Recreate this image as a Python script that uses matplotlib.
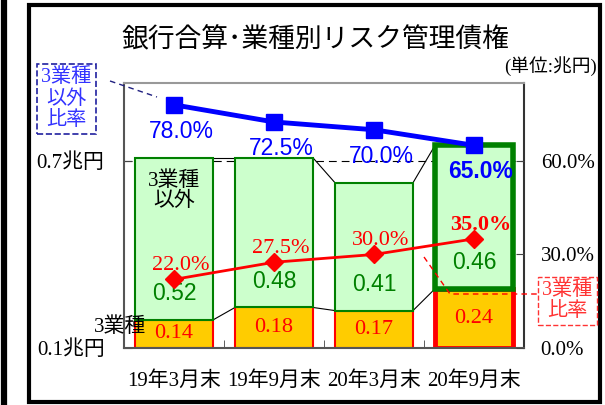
import matplotlib
matplotlib.use('Agg')
import matplotlib.pyplot as plt
from matplotlib.lines import Line2D
from matplotlib.patches import Rectangle

# data (兆円 / %)
cats = ['19年3月末', '19年9月末', '20年3月末', '20年9月末']
three_ind = [0.14, 0.18, 0.17, 0.24]      # 3業種
others = [0.52, 0.48, 0.41, 0.46]         # 3業種以外
others_pct = [78.0, 72.5, 70.0, 65.0]     # 3業種以外比率
three_pct = [22.0, 27.5, 30.0, 35.0]      # 3業種比率
left_labels = ['0.1兆円', '0.7兆円']
right_ticks = [0, 30, 60]
right_labels = ['0.0%', '30.0%', '60.0%']

SERIF = ['Liberation Serif', 'Noto Sans CJK JP']
SANS = ['Liberation Sans', 'Noto Sans CJK JP']
plt.rcParams['font.family'] = SERIF

W, H = 605, 405
fig = plt.figure(figsize=(W / 100, H / 100), dpi=100)


def fp(x, y):
    # pixel position -> figure fraction
    return x / W, 1 - y / H


ax = fig.add_axes([124 / W, 57 / H, 400 / W, 265 / H])
ax2 = ax.twinx()

y_lo, y_hi = 0.05, 0.9
p_hi = 85
ax.set_ylim(y_lo, y_hi)
ax2.set_ylim(0, p_hi)
ax.set_xlim(-0.5, 3.5)


def pct2val(p):
    return y_lo + (y_hi - y_lo) * p / p_hi


x = list(range(len(cats)))
w = 0.78
last = len(cats) - 1
tot = [a + b for a, b in zip(three_ind, others)]

for i in x:
    thick = i == last
    ax.bar(i, three_ind[i] - y_lo, w, bottom=y_lo, color='#FFCC00',
           edgecolor='red', lw=3.5 if thick else 1.5, zorder=2)
    ax.bar(i, others[i], w, bottom=three_ind[i], color='#CCFFCC',
           edgecolor='#008000', lw=4 if thick else 1.5, zorder=3)

# series lines between bars
for i in range(last):
    for tops in (three_ind, tot):
        ax.plot([i + w / 2, i + 1 - w / 2], [tops[i], tops[i + 1]],
                color='black', lw=0.8, zorder=1)

ax.axhline(pct2val(60), color='black', lw=0.8, ls=(0, (7, 4.5)), zorder=0.5)

# value labels
for i in x:
    ax.text(i, (y_lo + three_ind[i]) / 2, f'{three_ind[i]:.2f}', ha='center',
            va='center', color='red', fontsize=16, zorder=5)
    ax.annotate(f'{others[i]:.2f}', (i, three_ind[i]), xytext=(0, 19),
                textcoords='offset points', ha='center', va='center',
                color='#008000', fontsize=16.5, family=SANS, zorder=5)

ax.annotate('3業種\n以外', (0, tot[0]), xytext=(0, -24), textcoords='offset points',
            ha='center', va='center', fontsize=15, linespacing=1.05, zorder=5)

# ratio lines
ax2.plot(x, others_pct, color='blue', lw=3.5, marker='s', ms=12, zorder=3)
ax2.plot(x, three_pct, color='red', lw=2, marker='D', ms=9.5, zorder=3)

for i in x:
    wt = 'bold' if i == last else 'normal'
    ax2.annotate(f'{others_pct[i]:.1f}%', (i, others_pct[i]), xytext=(5, -19),
                 textcoords='offset points', ha='center', va='center',
                 color='blue', fontsize=16.5, family=SANS, weight=wt)
    ax2.annotate(f'{three_pct[i]:.1f}%', (i, three_pct[i]), xytext=(5, 10),
                 textcoords='offset points', ha='center', va='center',
                 color='red', fontsize=16, weight=wt)

# axes styling
ax.set_xticks(x, cats)
ax.set_xticks([i + 0.5 for i in x[:-1]], minor=True)
ax.tick_params(axis='x', which='major', length=0, pad=17, labelsize=15)
ax.tick_params(axis='x', which='minor', direction='in', length=6, color='#444444')
ax.set_yticks([y_lo, pct2val(60)], left_labels)
ax.tick_params(axis='y', direction='in', length=6, pad=14, labelsize=15, color='#444444')
ax2.set_yticks(right_ticks, right_labels)
ax2.tick_params(axis='y', direction='in', length=6, pad=12, labelsize=15, color='#444444')

for s in ax2.spines.values():
    s.set_visible(False)
ax.spines['top'].set_color('#999999')
ax.spines['left'].set_color('#555555')
ax.spines['bottom'].set_color('#555555')
ax.spines['right'].set_color('#333333')
for s in ax.spines.values():
    s.set_linewidth(1.5)

# titles and notes
fig.text(*fp(315, 40), '銀行合算･業種別リスク管理債権', ha='center', va='center',
         fontsize=19.3, family='Noto Sans CJK JP')
fig.text(*fp(597, 66), '(単位:兆円)', ha='right', va='center', fontsize=13.5)
fig.text(*fp(146, 327), '3業種', ha='right', va='center', fontsize=15, zorder=6)

fig.text(*fp(66.5, 99), '3業種\n以外\n比率', ha='center', va='center', color='#3333FF',
         fontsize=14.5, linespacing=1.2,
         bbox=dict(boxstyle='square,pad=0.2', fc='white', ec='#2020A0', ls='--', lw=1.2))
fig.text(*fp(567.5, 301), '3業種\n比率', ha='center', va='center', color='#FF3333',
         fontsize=14.5, linespacing=1.15,
         bbox=dict(boxstyle='square,pad=0.2', fc='white', ec='#FF3333', ls='--', lw=1))

fig.add_artist(Line2D([110 / W, 157 / W], [1 - 81 / H, 1 - 97 / H], color='#202080',
                      lw=1, ls=(0, (4, 3)), transform=fig.transFigure))
fig.add_artist(Line2D([424 / W, 450 / W, 537 / W], [1 - 257 / H, 1 - 294 / H, 1 - 294 / H],
                      color='red', lw=1, ls=(0, (4, 3)), transform=fig.transFigure))

# frames
fig.add_artist(Rectangle(fp(29, 402), 571 / W, 397 / H, fill=False, lw=3,
                         ec='black', transform=fig.transFigure))
fig.add_artist(Line2D([3.5 / W] * 2, [0, 1], color='black', lw=4.5,
                      transform=fig.transFigure))

fig.savefig('out.png', dpi=100)
